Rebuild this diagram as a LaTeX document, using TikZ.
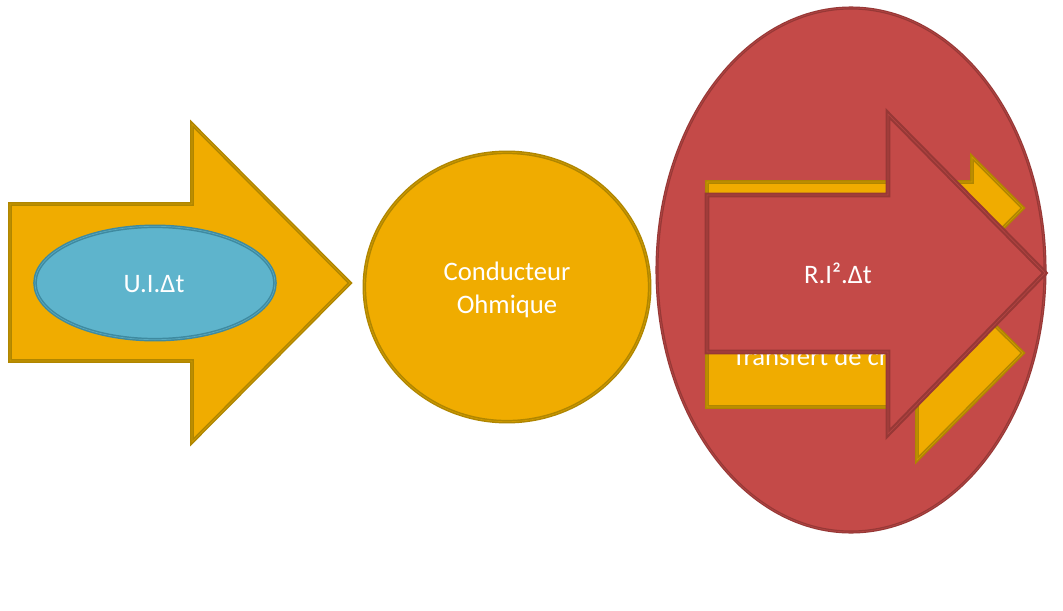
\documentclass[tikz,border=0pt]{standalone}
\usepackage{fontspec}
\setmainfont{Carlito}
\usetikzlibrary{shapes.geometric}
\definecolor{gold}{HTML}{F0AC00}
\definecolor{golddk}{HTML}{B08600}
\definecolor{goldlt}{HTML}{CF9A00}
\definecolor{bluef}{HTML}{5EB4CC}
\definecolor{bluedk}{HTML}{3E8AA0}
\definecolor{bluelt}{HTML}{5AA9BF}
\definecolor{redf}{HTML}{C44A48}
\definecolor{reddk}{HTML}{973836}
\definecolor{redlt}{HTML}{B24543}
\begin{document}
\begin{tikzpicture}[x=0.75pt,y=-0.75pt,
  goldshape/.style={fill=gold, draw=golddk, line width=1.1pt, double=goldlt, double distance=0.5pt, line join=miter},
  blueshape/.style={fill=bluef, draw=bluedk, line width=1.1pt, double=bluelt, double distance=0.5pt},
  redoval/.style={fill=redf, draw=reddk, line width=0.9pt, double=redlt, double distance=0.5pt},
  redarrow/.style={fill=redf, draw=reddk, line width=1.6pt, double=redlt, double distance=0.5pt, line join=miter},
  lbl/.style={text=white, font=\fontsize{20}{24}\selectfont, inner sep=0pt}]
\useasboundingbox[fill=white] (0,0) rectangle (1063,610);
% left arrow
\draw[goldshape] (10,204) -- (192,204) -- (192,124) -- (350,283) -- (192,442) -- (192,361) -- (10,361) -- cycle;
\node[blueshape, ellipse, minimum width=180pt, minimum height=85pt, inner sep=0pt] (uiov) at (155,283) {};
\node[lbl, anchor=base] (ui) at (154,292) {U.I.Δt};
% circle
\node[goldshape, ellipse, minimum width=214pt, minimum height=202pt, inner sep=0pt] (cond) at (507,287) {};
\node[lbl, anchor=base] (cond1) at (507,280) {Conducteur};
\node[lbl, anchor=base] (cond2) at (507,313) {Ohmique};
% red oval
\node[redoval, ellipse, minimum width=291pt, minimum height=393pt, inner sep=0pt] (oval) at (851,270) {};
% yellow arrow behind
\draw[goldshape] (707,182) -- (972,182) -- (972,157) -- (1023,208) -- (950,281) -- (1023,353) -- (917,460) -- (917,407) -- (707,407) -- cycle;
\begin{scope}
\clip (709,184) rectangle (890,405);
\node[lbl, anchor=base west] (transf) at (732,365) {Transfert de chaleur};
\end{scope}
% red arrow
\draw[redarrow] (707,195) -- (888,195) -- (888,114) -- (1045,273) -- (888,434) -- (888,352) -- (707,352) -- cycle;
\node[lbl, anchor=base] (ri) at (838,283) {R.I².Δt};
\end{tikzpicture}
\end{document}
